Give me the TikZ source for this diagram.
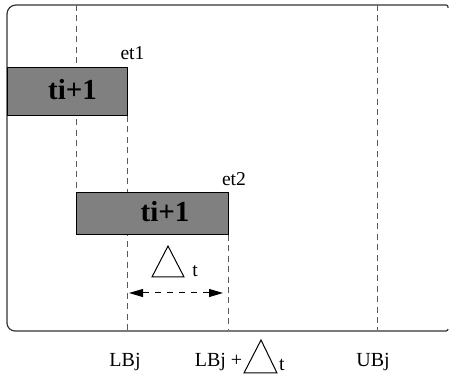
\documentclass[tikz,border=0pt]{standalone}
\usepackage{fontspec}
\setmainfont{Liberation Serif}
\usetikzlibrary{arrows.meta}

\tikzset{
    frame/.style={draw=black!80, line width=0.6pt},
    guide/.style={draw=black!65, line width=0.5pt, dash pattern=on 3pt off 2.2pt},
    taskbox/.style={fill=black!50, draw=black, line width=0.5pt},
    tasklabel/.style={font=\fontsize{14.5}{16}\selectfont\bfseries, anchor=base, inner sep=0pt},
    label/.style={font=\fontsize{10}{11}\selectfont, anchor=base, inner sep=0pt},
    small/.style={font=\fontsize{9.8}{11}\selectfont, anchor=base, inner sep=0pt},
    delta/.style={draw=black, line width=0.5pt, line join=miter}
}

\begin{document}
\begin{tikzpicture}[x=5pt, y=5pt]
    \useasboundingbox (0,0) rectangle (44.9,37.8);

    % frame
    \draw[frame] (0.7,5.5) -- (0.7,36.4) arc (180:90:0.9) -- (44.6,37.3)
        arc (90:0:0.2) -- (44.8,37.0);
    \draw[frame] (0.7,5.5) arc (180:270:0.8) -- (44.6,4.7) arc (270:360:0.2);

    % time marks
    \coordinate (lb) at (12.7,4.8);
    \coordinate (lbt) at (22.8,4.8);
    \coordinate (ub) at (37.7,4.8);
    \draw[guide] (7.6,37.3) -- (7.6,18.5);
    \draw[guide] (12.7,26.2) -- (lb);
    \draw[guide] (22.8,14.3) -- (lbt);
    \draw[guide] (37.7,37.3) -- (ub);

    % tasks
    \draw[taskbox] (0.7,26.2) rectangle (12.7,31.0);
    \node[tasklabel] (task1) at (7.25,27.8) {ti+1};
    \node[small] (et1) at (13.25,31.8) {et1};

    \draw[taskbox] (7.6,14.3) rectangle (22.8,18.5);
    \node[tasklabel] (task2) at (16.5,15.6) {ti+1};
    \node[small] (et2) at (23.4,19.2) {et2};

    % shift
    \draw[delta] (16.8,13.2) -- (18.4,10.1) -- (15.2,10.1) -- cycle;
    \node[small] (dt) at (19.5,10.1) {t};
    \coordinate (shiftL) at (12.9,8.5);
    \coordinate (shiftR) at (22.3,8.5);
    \draw[line width=0.5pt, dashed, {Triangle[length=7pt,width=4pt]}-{Triangle[length=7pt,width=4pt]}] (shiftL) -- (shiftR);

    % bounds
    \node[label] (lbj) at (12.5,1.1) {LBj};
    \node[label] (lbjd) at (21.85,1.1) {LBj +};
    \draw[delta] (26.1,3.8) -- (27.7,0.5) -- (24.4,0.5) -- cycle;
    \node[label] (lbjt) at (28.2,0.7) {t};
    \node[label] (ubj) at (37.3,1.1) {UBj};
\end{tikzpicture}
\end{document}
